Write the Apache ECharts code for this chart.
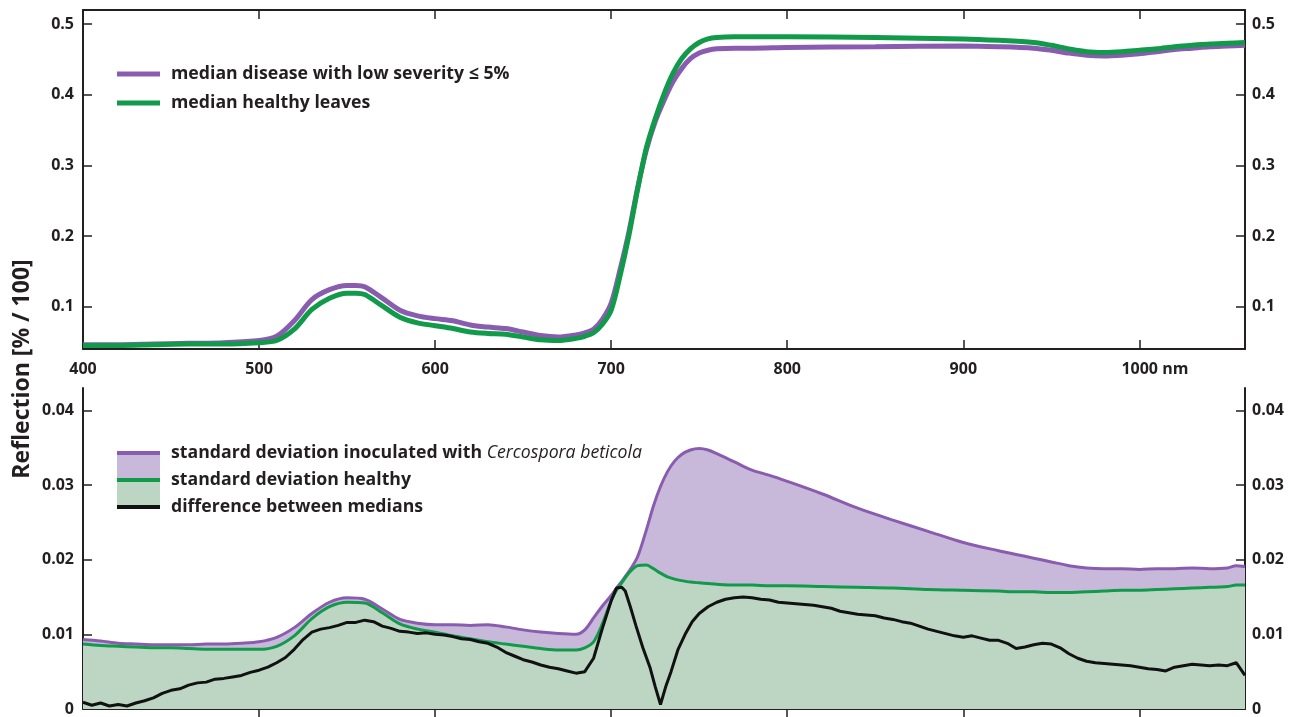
<!DOCTYPE html>
<html>
<head>
<meta charset="utf-8">
<script src="https://cdn.jsdelivr.net/npm/echarts@6/dist/echarts.min.js"></script>
<style>
html,body{margin:0;padding:0;background:#fff;}
#c{width:1297px;height:717px;}
</style>
</head>
<body>
<div id="c"></div>
<script>
// ---------- data ----------
const wlTop = [400,420,440,460,480,500,510,520,530,540,550,555,560,570,580,590,600,610,620,630,640,650,660,670,680,
  685,690,695,700,705,710,715,720,725,730,735,740,745,750,755,760,770,780,800,850,900,
  920,940,950,960,970,980,990,1000,1010,1020,1030,1040,1050,1060];
const medianDisease = [0.046,0.046,0.047,0.048,0.049,0.052,0.058,0.080,0.110,0.124,0.130,0.130,0.128,0.112,0.095,0.087,0.083,0.080,0.074,0.071,0.069,0.064,0.059,0.057,0.060,
  0.063,0.068,0.082,0.105,0.152,0.205,0.268,0.322,0.362,0.392,0.418,0.437,0.451,0.459,0.463,0.465,0.466,0.466,0.467,0.468,0.469,
  0.468,0.466,0.463,0.459,0.456,0.455,0.456,0.458,0.461,0.464,0.466,0.468,0.469,0.470];
const medianHealthy = [0.045,0.045,0.046,0.047,0.047,0.049,0.052,0.068,0.096,0.112,0.119,0.119,0.117,0.101,0.085,0.077,0.073,0.069,0.064,0.062,0.061,0.057,0.053,0.052,0.055,
  0.058,0.063,0.075,0.095,0.143,0.200,0.266,0.325,0.366,0.401,0.430,0.451,0.465,0.474,0.479,0.481,0.482,0.482,0.482,0.481,0.479,
  0.477,0.474,0.470,0.465,0.461,0.460,0.461,0.463,0.465,0.468,0.470,0.472,0.473,0.474];

const wlStd = [400,410,420,430,440,450,460,470,480,490,500,510,520,530,540,550,560,570,580,590,600,610,620,630,640,650,660,670,680,
  685,690,695,700,703,706,710,715,720,724,728,732,736,740,745,750,755,760,770,780,790,800,820,840,860,880,900,
  920,930,940,950,960,970,980,990,1000,1010,1020,1030,1040,1050,1055,1060];
const sdInoculated = [0.0093,0.0091,0.0088,0.0087,0.0086,0.0086,0.0086,0.0087,0.0087,0.0088,0.0090,0.0096,0.0109,0.0128,0.0143,0.0149,0.0147,0.0134,0.0120,0.0115,0.0113,0.0113,0.0112,0.0113,0.0110,0.0106,0.0103,0.0101,0.0100,
  0.0106,0.0122,0.0138,0.0152,0.0162,0.0171,0.0184,0.0204,0.0240,0.0272,0.0298,0.0318,0.0332,0.0341,0.0347,0.0349,0.0347,0.0342,0.0331,0.0320,0.0313,0.0305,0.0288,0.0269,0.0253,0.0238,0.0223,
  0.0212,0.0207,0.0202,0.0197,0.0192,0.0189,0.0188,0.0188,0.0187,0.0188,0.0188,0.0189,0.0188,0.0189,0.0192,0.0191];
const sdHealthy = [0.0087,0.0085,0.0084,0.0083,0.0082,0.0082,0.0081,0.0080,0.0080,0.0080,0.0080,0.0084,0.0098,0.0121,0.0137,0.0143,0.0142,0.0129,0.0114,0.0107,0.0103,0.0098,0.0094,0.0090,0.0087,0.0084,0.0081,0.0079,0.0079,
  0.0082,0.0090,0.0114,0.0145,0.0159,0.0169,0.0182,0.0192,0.0193,0.0188,0.0182,0.0177,0.0174,0.0172,0.0170,0.0169,0.0168,0.0167,0.0166,0.0166,0.0165,0.0165,0.0164,0.0163,0.0162,0.0160,0.0159,
  0.0158,0.0157,0.0157,0.0156,0.0156,0.0157,0.0158,0.0159,0.0159,0.0160,0.0161,0.0162,0.0163,0.0164,0.0166,0.0166];

const wlDiff = [400,405,410,415,420,425,430,435,440,445,450,455,460,465,470,475,480,485,490,495,
  500,505,510,515,520,525,530,535,540,545,550,555,560,565,570,575,580,585,590,595,
  600,605,610,615,620,625,630,635,640,645,650,655,660,665,670,675,680,685,690,695,
  700,703,706,708,711,714,718,722,725,728,731,734,738,742,746,
  750,755,760,765,770,775,780,785,790,795,800,805,810,815,820,825,830,835,840,845,
  850,855,860,865,870,875,880,885,890,895,900,905,910,915,920,925,930,935,940,945,
  950,955,960,965,970,975,980,985,990,995,1000,1005,1010,1015,1020,1025,1030,1035,1040,1045,
  1050,1055,1060];
const diffMedians = [0.0009,0.0005,0.0008,0.0004,0.0006,0.0004,0.0008,0.0011,0.0015,0.0021,0.0025,0.0027,0.0032,0.0035,0.0036,0.0040,0.0041,0.0043,0.0045,0.0049,
  0.0052,0.0056,0.0062,0.0069,0.0080,0.0093,0.0103,0.0107,0.0109,0.0112,0.0116,0.0116,0.0119,0.0117,0.0111,0.0108,0.0104,0.0103,0.0101,0.0102,
  0.0100,0.0099,0.0097,0.0094,0.0093,0.0090,0.0088,0.0083,0.0076,0.0071,0.0066,0.0063,0.0059,0.0056,0.0054,0.0051,0.0048,0.0050,0.0068,0.0108,
  0.0145,0.0162,0.0163,0.0158,0.0136,0.0112,0.0082,0.0056,0.0030,0.0006,0.0030,0.0050,0.0080,0.0100,0.0117,
  0.0128,0.0137,0.0143,0.0147,0.0149,0.0150,0.0149,0.0147,0.0146,0.0143,0.0142,0.0141,0.0140,0.0139,0.0137,0.0135,0.0131,0.0129,0.0127,0.0126,
  0.0125,0.0122,0.0120,0.0117,0.0115,0.0111,0.0107,0.0104,0.0101,0.0098,0.0096,0.0098,0.0095,0.0092,0.0092,0.0088,0.0081,0.0083,0.0086,0.0088,
  0.0087,0.0082,0.0074,0.0068,0.0064,0.0062,0.0061,0.0060,0.0059,0.0058,0.0056,0.0054,0.0053,0.0051,0.0056,0.0058,0.0060,0.0059,0.0058,0.0059,
  0.0058,0.0062,0.0045];

const xTickValues = [500,600,700,800,900,1000];
const xLabelValues = [400,500,600,700,800,900,1000];
const yTicksTop = [0.1,0.2,0.3,0.4,0.5];
const yTicksBottom = [0,0.01,0.02,0.03,0.04];

const seriesNames = {
  disease: 'median disease with low severity \u2264 5%',
  healthy: 'median healthy leaves',
  sdInoc: 'standard deviation inoculated with Cercospora beticola',
  sdHealthy: 'standard deviation healthy',
  diff: 'difference between medians'
};

// ---------- styling ----------
const INK = '#231f20';
const PURPLE = '#8a5cb0';
const GREEN = '#109a4a';
const PURPLE_FILL = '#c8b9da';
const GREEN_FILL = '#bdd6c4';
const FONT = '"Open Sans", "Noto Sans", sans-serif';

function pairs(xs, ys) {
  const n = Math.min(xs.length, ys.length);
  const out = [];
  for (let i = 0; i < n; i++) out.push([xs[i], ys[i]]);
  return out;
}

const axisLineStyle = { show: true, lineStyle: { color: INK, width: 2 } };
const labelStyle = { color: INK, fontFamily: FONT, fontWeight: 'bold', fontSize: 16 };

function xAxis(grid, pos, withLabels) {
  return {
    type: 'value', gridIndex: grid, position: pos, min: 400, max: 1060,
    axisLine: axisLineStyle,
    axisTick: { show: true, inside: true, length: 9, customValues: xTickValues, lineStyle: { color: INK, width: 1.5 } },
    axisLabel: withLabels ? Object.assign({
      show: true, margin: 12, customValues: xLabelValues,
      formatter: v => v === 1000 ? '{p|}1000 nm' : String(v),
      rich: { p: { width: 31 } }
    }, labelStyle) : { show: false },
    splitLine: { show: false }
  };
}
function yAxis(grid, pos, min, max, ticks, fmt, margin) {
  return {
    type: 'value', gridIndex: grid, position: pos, min: min, max: max,
    axisLine: axisLineStyle,
    axisTick: { show: true, inside: true, length: 9, customValues: ticks, lineStyle: { color: INK, width: 1.5 } },
    axisLabel: Object.assign({ show: true, margin: margin, customValues: ticks, formatter: fmt }, labelStyle),
    splitLine: { show: false }
  };
}
const fmtTop = v => v.toFixed(1);
const fmtBottom = v => Math.abs(v) < 1e-9 ? '0' : v.toFixed(2);

const LEG_FS = 17.7;
const legendText = { color: INK, fontFamily: FONT, fontWeight: 'bold', fontSize: LEG_FS, padding: [0, 0, 0, 6],
  rich: { i: { fontStyle: 'italic', fontWeight: 'normal', fontFamily: FONT, fontSize: LEG_FS, color: INK } } };

const option = {
  animation: false,
  backgroundColor: '#ffffff',
  grid: [
    { left: 83, right: 52, top: 10, height: 339 },
    { left: 83, right: 52, top: 388, height: 324 }
  ],
  xAxis: [ xAxis(0, 'bottom', true), xAxis(0, 'top', false), xAxis(1, 'bottom', false), xAxis(1, 'top', false) ],
  yAxis: [
    yAxis(0, 'left', 0.04, 0.52, yTicksTop, fmtTop, 9),
    yAxis(0, 'right', 0.04, 0.52, yTicksTop, fmtTop, 7),
    yAxis(1, 'left', 0, 0.043, yTicksBottom, fmtBottom, 9),
    yAxis(1, 'right', 0, 0.043, yTicksBottom, fmtBottom, 7)
  ],
  legend: [
    {
      orient: 'vertical', left: 117, top: 65, padding: 0, itemGap: 11,
      itemWidth: 43, itemHeight: 5, selectedMode: false,
      data: [
        { name: seriesNames.disease, icon: 'rect', itemStyle: { color: PURPLE } },
        { name: seriesNames.healthy, icon: 'rect', itemStyle: { color: GREEN } }
      ],
      textStyle: legendText
    },
    {
      orient: 'vertical', left: 117, top: 455, padding: 0, itemGap: 4, z: 2,
      itemWidth: 43, itemHeight: 23, selectedMode: false,
      data: [
        { name: seriesNames.sdInoc, icon: 'rect', itemStyle: { color: PURPLE_FILL } },
        { name: seriesNames.sdHealthy, icon: 'rect', itemStyle: { color: GREEN_FILL } }
      ],
      formatter: () => '',
      textStyle: { fontSize: 1 }
    },
    {
      orient: 'vertical', left: 117, top: 444, padding: 0, itemGap: 9, z: 3,
      itemWidth: 43, itemHeight: 4, selectedMode: false,
      data: [
        { name: seriesNames.sdInoc, icon: 'rect', itemStyle: { color: PURPLE } },
        { name: seriesNames.sdHealthy, icon: 'rect', itemStyle: { color: GREEN } },
        { name: seriesNames.diff, icon: 'rect', itemStyle: { color: '#111' } }
      ],
      formatter: n => n === seriesNames.sdInoc ? 'standard deviation inoculated with {i|Cercospora beticola}' : n,
      textStyle: legendText
    }
  ],
  graphic: [{
    type: 'text', x: 22, y: 369, rotation: Math.PI / 2,
    style: { text: 'Reflection [% / 100]', fill: INK, font: 'bold 23px "Open Sans", sans-serif', align: 'center', verticalAlign: 'middle' }
  }],
  series: [
    { name: seriesNames.disease, type: 'line', xAxisIndex: 0, yAxisIndex: 0, showSymbol: false, smooth: 0.3,
      data: pairs(wlTop, medianDisease), lineStyle: { color: PURPLE, width: 5 }, itemStyle: { color: PURPLE }, z: 2 },
    { name: seriesNames.healthy, type: 'line', xAxisIndex: 0, yAxisIndex: 0, showSymbol: false, smooth: 0.3,
      data: pairs(wlTop, medianHealthy), lineStyle: { color: GREEN, width: 5 }, itemStyle: { color: GREEN }, z: 3 },
    { name: seriesNames.sdInoc, type: 'line', xAxisIndex: 2, yAxisIndex: 2, showSymbol: false, smooth: 0.3,
      data: pairs(wlStd, sdInoculated), lineStyle: { color: PURPLE, width: 3 }, itemStyle: { color: PURPLE },
      areaStyle: { color: PURPLE_FILL, opacity: 1 }, z: 2 },
    { name: seriesNames.sdHealthy, type: 'line', xAxisIndex: 2, yAxisIndex: 2, showSymbol: false, smooth: 0.3,
      data: pairs(wlStd, sdHealthy), lineStyle: { color: GREEN, width: 3 }, itemStyle: { color: GREEN },
      areaStyle: { color: GREEN_FILL, opacity: 1 }, z: 3 },
    { name: seriesNames.diff, type: 'line', xAxisIndex: 2, yAxisIndex: 2, showSymbol: false, smooth: false,
      data: pairs(wlDiff, diffMedians), lineStyle: { color: '#111', width: 3 }, itemStyle: { color: '#111' }, z: 4 }
  ]
};

const chart = echarts.init(document.getElementById('c'), null, { renderer: 'canvas' });
chart.setOption(option);
</script>
</body>
</html>
